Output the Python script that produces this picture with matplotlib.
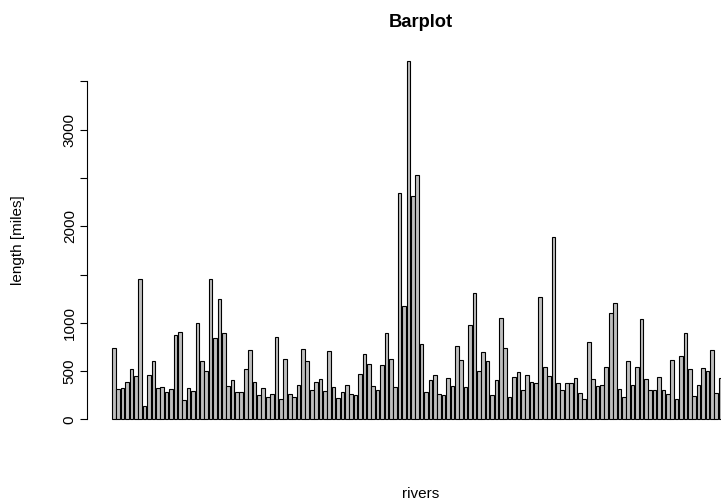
import matplotlib
matplotlib.use("Agg")
import matplotlib.pyplot as plt
import numpy as np

plt.rcParams["font.family"] = ["Liberation Sans", "DejaVu Sans"]

# lengths of major North American rivers (miles)
rivers = [735, 320, 325, 392, 524, 450, 1459, 135, 465, 600, 330, 336, 280, 315, 870,
          906, 202, 329, 290, 1000, 600, 505, 1450, 840, 1243, 890, 350, 407, 286, 280,
          525, 720, 390, 250, 327, 230, 265, 850, 210, 630, 260, 230, 360, 730, 600,
          306, 390, 420, 291, 710, 340, 217, 281, 352, 259, 250, 470, 680, 570, 350,
          300, 560, 900, 625, 332, 2348, 1171, 3710, 2315, 2533, 780, 280, 410, 460, 260,
          255, 431, 350, 760, 618, 338, 981, 1306, 500, 696, 605, 250, 411, 1054, 735,
          233, 435, 490, 310, 460, 383, 375, 1270, 545, 445, 1885, 380, 300, 380, 377,
          425, 276, 210, 800, 420, 350, 360, 538, 1100, 1205, 314, 237, 610, 360, 540,
          1038, 424, 310, 300, 444, 301, 268, 620, 215, 652, 900, 525, 246, 360, 529,
          500, 720, 270, 430, 671, 1770]
ytick_values = [0, 500, 1000, 1500, 2000, 2500, 3000, 3500]
ytick_labels = ["0", "500", "1000", "", "2000", "", "3000", ""]

W, H = 721, 499
fig = plt.figure(figsize=(W / 100, H / 100), dpi=100)
# axes box in pixels (plot region runs past the right edge, as in the reference)
left, right, top, bottom = 87.2, 756.0, 46.7, 433.8
ax = fig.add_axes([left / W, 1 - bottom / H, (right - left) / W, (bottom - top) / H])

n = len(rivers)
x = 0.2 + np.arange(n) * 1.2
ax.bar(x, rivers, width=1.0, align="edge", color="#BEBEBE",
       edgecolor="black", linewidth=0.8)

span = x[-1] + 1.0 - 0.2
ax.set_xlim(0.2 - 0.04 * span, x[-1] + 1.0 + 0.04 * span)
ymax = max(rivers)
ax.set_ylim(-0.04 * ymax, ymax * 1.04)

for s in ["top", "right", "bottom"]:
    ax.spines[s].set_visible(False)
ax.spines["left"].set_bounds(0, 3500)
ax.spines["left"].set_linewidth(0.8)
ax.set_xticks([])
ax.set_yticks(ytick_values)
ax.set_yticklabels(ytick_labels, rotation=90, va="center", fontsize=11)
ax.tick_params(axis="y", length=5, width=0.8, pad=2.5)

fig.text(420.5 / W, 1 - 27 / H, "Barplot", ha="center", va="baseline",
         fontsize=13.2, fontweight="bold")
fig.text(420.5 / W, 1 - 497.5 / H, "rivers", ha="center", va="baseline", fontsize=11)
fig.text(18 / W, 1 - 240 / H, "length [miles]", ha="center", va="center",
         rotation=90, fontsize=11)

fig.savefig("out.png", dpi=100)
